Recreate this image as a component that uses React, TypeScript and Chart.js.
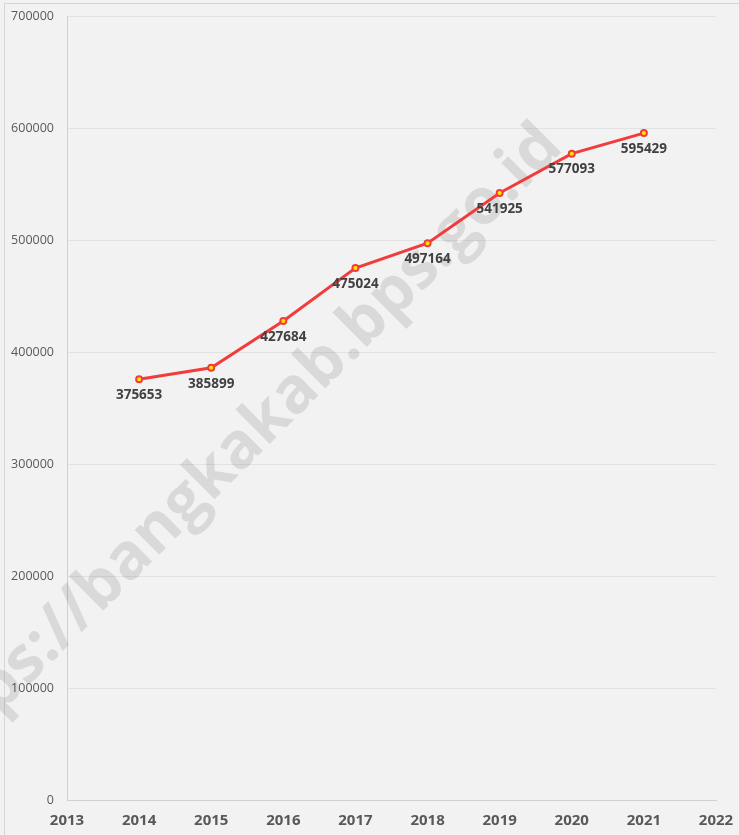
import React, { useEffect, useRef } from "react";
import { Chart, registerables } from "chart.js";

Chart.register(...registerables);

const years = [2014, 2015, 2016, 2017, 2018, 2019, 2020, 2021];
const values = [375653, 385899, 427684, 475024, 497164, 541925, 577093, 595429];
const xMin = 2013;
const xMax = 2022;
const yMax = 700000;
const yStep = 100000;
const watermarkText = "https://bangkakab.bps.go.id";

const FONT = "'Open Sans', 'Noto Sans', sans-serif";

const bgPlugin = {
  id: "bgPlugin",
  beforeDraw(chart: any) {
    const ctx = chart.ctx;
    ctx.save();
    ctx.fillStyle = "#f2f2f2";
    ctx.fillRect(0, 0, chart.width, chart.height);
    ctx.strokeStyle = "#d6d6d6";
    ctx.lineWidth = 1;
    ctx.strokeRect(4.5, 3.5, chart.width + 10, chart.height + 10);
    ctx.restore();
  },
  beforeDatasetsDraw(chart: any) {
    const ctx = chart.ctx;
    ctx.save();
    ctx.translate(552, 136);
    ctx.rotate(-Math.PI / 4);
    ctx.font = `bold 64px ${FONT}`;
    ctx.fillStyle = "rgba(0,0,0,0.1)";
    ctx.textAlign = "right";
    ctx.textBaseline = "middle";
    ctx.fillText(watermarkText, 0, 0);
    ctx.restore();
  },
  afterDatasetsDraw(chart: any) {
    const ctx = chart.ctx;
    const meta = chart.getDatasetMeta(0);
    ctx.save();
    ctx.font = `bold 13.5px ${FONT}`;
    ctx.fillStyle = "#404040";
    ctx.textAlign = "center";
    ctx.textBaseline = "middle";
    meta.data.forEach((pt: any, i: number) => {
      ctx.fillText(String(values[i]), pt.x, pt.y + 16);
    });
    ctx.restore();
  },
};

export default function App() {
  const ref = useRef<HTMLCanvasElement>(null);
  useEffect(() => {
    document.body.style.margin = "0";
    const chart = new Chart(ref.current as HTMLCanvasElement, {
      type: "line",
      data: {
        datasets: [
          {
            data: years.map((y, i) => ({ x: y, y: values[i] })),
            borderColor: "#f23c3c",
            borderWidth: 3,
            pointRadius: 3,
            pointBorderWidth: 2,
            pointBorderColor: "#f23c3c",
            pointBackgroundColor: "#ffe600",
            tension: 0,
          },
        ],
      },
      options: {
        responsive: false,
        animation: false,
        layout: { padding: { top: 16, right: 23, left: 0, bottom: 0 } },
        plugins: { legend: { display: false }, tooltip: { enabled: false } },
        scales: {
          x: {
            type: "linear",
            min: xMin,
            max: xMax,
            ticks: {
              stepSize: 1,
              padding: 12,
              color: "#595959",
              font: { family: FONT, size: 15, weight: "bold" },
              callback: (v: any) => String(v),
            },
            grid: { display: false, drawTicks: false },
            border: { display: true, color: "#d0d0d0", width: 1 },
            afterFit: (s: any) => {
              s.height = 35;
              s.paddingLeft = 0;
              s.paddingRight = 0;
            },
          },
          y: {
            min: 0,
            max: yMax,
            ticks: {
              stepSize: yStep,
              padding: 13,
              color: "#595959",
              font: { family: FONT, size: 12.5 },
              callback: (v: any) => String(v),
            },
            grid: { color: "#e2e2e2", drawTicks: false },
            border: { display: true, color: "#d0d0d0", width: 1 },
            afterFit: (s: any) => {
              s.width = 67;
              s.paddingTop = 0;
              s.paddingBottom = 0;
            },
          },
        },
      },
      plugins: [bgPlugin],
    } as any);
    return () => chart.destroy();
  }, []);
  return (
    <div style={{ width: 739, height: 835 }}>
      <canvas ref={ref} width={739} height={835} style={{ display: "block" }} />
    </div>
  );
}
